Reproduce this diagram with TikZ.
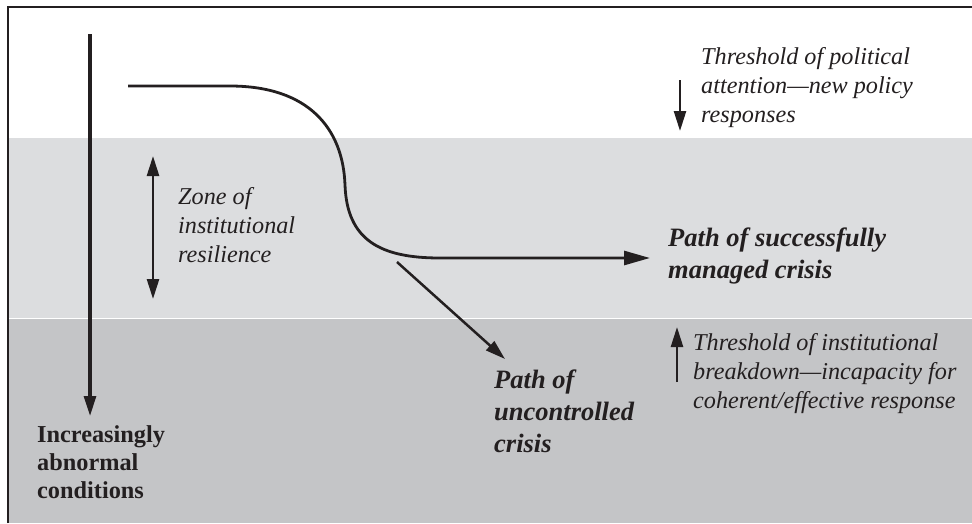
\documentclass[tikz,border=0pt]{standalone}
\usepackage{fontspec}
\setmainfont{Liberation Serif}
\usetikzlibrary{arrows.meta}
\definecolor{ink}{HTML}{231F20}
\definecolor{zonelight}{HTML}{DCDDDF}
\definecolor{zonedark}{HTML}{C4C5C7}
\begin{document}
\begin{tikzpicture}[x=1pt,y=-1pt,
  tip/.style={-{Triangle[length=20pt,width=12pt]}},
  arr/.style={draw=ink,line width=2.8pt,tip},
  lbl/.style={inner sep=0pt,align=left,anchor=base west,text=ink,
    font=\fontsize{24.2}{29}\selectfont\itshape},
  keylbl/.style={inner sep=0pt,align=left,anchor=base west,text=ink,
    font=\fontsize{26.5}{32}\selectfont\bfseries\itshape},
  axislbl/.style={inner sep=0pt,align=left,anchor=base west,text=ink,
    font=\fontsize{24.3}{28}\selectfont\bfseries}]
\useasboundingbox (0,0) rectangle (972,523);
% bands
\fill[white] (0,0) rectangle (972,523);
\fill[zonelight] (8,138) rectangle (972,318);
\fill[zonedark] (8,318) rectangle (972,523);
\draw[white,line width=1pt] (8,318) -- (972,318);
% frame
\draw[ink,line width=1.8pt] (8,523) -- (8,7) -- (972,7);

% coordinates
\coordinate (axTop) at (90,34);
\coordinate (axBot) at (90,416);
\coordinate (zoneTop) at (153,156);
\coordinate (zoneBot) at (153,299);
\coordinate (pathStart) at (128,86);
\coordinate (pathEnd) at (650,258);
\coordinate (branchStart) at (397,262);
\coordinate (branchEnd) at (505,359);
\coordinate (polTop) at (680,80);
\coordinate (polBot) at (680,131);
\coordinate (instBot) at (677,382);
\coordinate (instTop) at (677,327);

% axis of abnormal conditions
\draw[arr,line width=3.2pt] (axTop) -- (axBot);
% zone of resilience
\draw[draw=ink,line width=2.6pt,{Triangle[length=20pt,width=12pt]}-{Triangle[length=20pt,width=12pt]}] (zoneTop) -- (zoneBot);
% managed crisis path
\draw[draw=ink,line width=2.8pt,-{Triangle[length=26pt,width=14pt]}]
  (pathStart) -- (230,86) .. controls (308,86) and (343,128) .. (345,185)
  .. controls (347,240) and (380,258) .. (440,258) -- (pathEnd);
% uncontrolled crisis path
\draw[arr,line width=2.5pt] (branchStart) -- (branchEnd);
% thresholds
\draw[arr,line width=2.5pt] (polTop) -- (polBot);
\draw[arr,line width=2.5pt] (instBot) -- (instTop);

% labels (anchored at the baseline of their last line)
\node[lbl] (zone) at (178,262) {Zone of\\institutional\\resilience};
\node[lbl] (pol) at (701,122) {Threshold of political\\attention---new policy\\responses};
\node[lbl] (inst) at (693,408) {Threshold of institutional\\breakdown---incapacity for\\coherent/effective response};
\node[keylbl] (managed) at (668,278) {Path of successfully\\managed crisis};
\node[keylbl] (uncontrolled) at (494,452) {Path of\\uncontrolled\\crisis};
\node[axislbl] (abnormal) at (37,498) {Increasingly\\abnormal\\conditions};
\end{tikzpicture}
\end{document}
